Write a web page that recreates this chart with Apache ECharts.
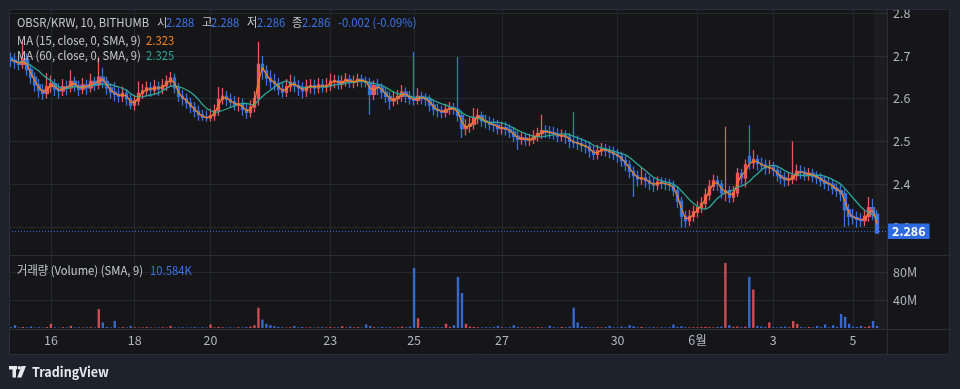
<!DOCTYPE html>
<html><head><meta charset="utf-8">
<script src="https://cdn.jsdelivr.net/npm/echarts@6/dist/echarts.min.js"></script>
<style>html,body{margin:0;padding:0;background:#1e222d}#c{width:960px;height:389px}</style>
</head><body><div id="c"></div>
<script>
// ---- data (aggregated candles) ----
const opens=[
2.695,2.690,2.685,2.680,2.692,2.668,2.650,2.632,2.620,2.612,
2.628,2.635,2.622,2.618,2.628,2.625,2.640,2.630,2.622,2.632,
2.625,2.640,2.632,2.650,2.640,2.625,2.615,2.610,2.605,2.612,
2.600,2.585,2.595,2.612,2.618,2.625,2.620,2.628,2.622,2.630,
2.640,2.648,2.625,2.605,2.600,2.590,2.580,2.570,2.562,2.556,
2.555,2.560,2.572,2.598,2.605,2.598,2.592,2.585,2.588,2.575,
2.568,2.580,2.600,2.680,2.665,2.648,2.640,2.635,2.622,2.615,
2.628,2.638,2.630,2.625,2.618,2.628,2.630,2.625,2.632,2.628,
2.630,2.640,2.642,2.635,2.640,2.645,2.638,2.640,2.645,2.640,
2.638,2.610,2.630,2.625,2.615,2.605,2.595,2.600,2.605,2.615,
2.605,2.600,2.596,2.605,2.600,2.598,2.585,2.575,2.572,2.568,
2.575,2.578,2.575,2.560,2.530,2.535,2.540,2.555,2.560,2.548,
2.545,2.540,2.538,2.530,2.532,2.528,2.522,2.512,2.505,2.508,
2.503,2.505,2.512,2.518,2.525,2.522,2.520,2.518,2.512,2.515,
2.510,2.500,2.497,2.495,2.490,2.488,2.478,2.470,2.478,2.482,
2.478,2.475,2.470,2.465,2.455,2.445,2.430,2.420,2.412,2.415,
2.408,2.402,2.398,2.405,2.402,2.400,2.398,2.385,2.360,2.325,
2.315,2.325,2.335,2.345,2.355,2.375,2.395,2.408,2.400,2.380,
2.385,2.370,2.380,2.425,2.415,2.465,2.450,2.458,2.448,2.445,
2.438,2.440,2.432,2.420,2.415,2.410,2.412,2.420,2.430,2.428,
2.422,2.425,2.418,2.415,2.408,2.402,2.400,2.390,2.385,2.378,
2.340,2.325,2.322,2.318,2.315,2.325,2.345,2.330];
const closes=[
2.690,2.685,2.680,2.692,2.668,2.650,2.632,2.620,2.612,2.628,
2.635,2.622,2.618,2.628,2.625,2.640,2.630,2.622,2.632,2.625,
2.640,2.632,2.650,2.640,2.625,2.615,2.610,2.605,2.612,2.600,
2.585,2.595,2.612,2.618,2.625,2.620,2.628,2.622,2.630,2.640,
2.648,2.625,2.605,2.600,2.590,2.580,2.570,2.562,2.556,2.555,
2.560,2.572,2.598,2.605,2.598,2.592,2.585,2.588,2.575,2.568,
2.580,2.600,2.680,2.665,2.648,2.640,2.635,2.622,2.615,2.628,
2.638,2.630,2.625,2.618,2.628,2.630,2.625,2.632,2.628,2.630,
2.640,2.642,2.635,2.640,2.645,2.638,2.640,2.645,2.640,2.638,
2.610,2.630,2.625,2.615,2.605,2.595,2.600,2.605,2.615,2.605,
2.600,2.596,2.605,2.600,2.598,2.585,2.575,2.572,2.568,2.575,
2.578,2.575,2.560,2.530,2.535,2.540,2.555,2.560,2.548,2.545,
2.540,2.538,2.530,2.532,2.528,2.522,2.512,2.505,2.508,2.503,
2.505,2.512,2.518,2.525,2.522,2.520,2.518,2.512,2.515,2.510,
2.500,2.497,2.495,2.490,2.488,2.478,2.470,2.478,2.482,2.478,
2.475,2.470,2.465,2.455,2.445,2.430,2.420,2.412,2.415,2.408,
2.402,2.398,2.405,2.402,2.400,2.398,2.385,2.360,2.325,2.315,
2.325,2.335,2.345,2.355,2.375,2.395,2.408,2.400,2.380,2.385,
2.370,2.380,2.425,2.415,2.445,2.450,2.458,2.448,2.445,2.438,
2.440,2.432,2.420,2.415,2.410,2.412,2.420,2.430,2.428,2.422,
2.425,2.418,2.415,2.408,2.402,2.400,2.390,2.385,2.378,2.340,
2.325,2.322,2.318,2.315,2.325,2.345,2.330,2.286];
const highs=[
2.708,2.706,2.698,2.732,2.706,2.678,2.661,2.646,2.634,2.660,
2.654,2.646,2.636,2.646,2.642,2.667,2.651,2.642,2.648,2.644,
2.658,2.651,2.697,2.672,2.651,2.636,2.638,2.624,2.628,2.621,
2.610,2.608,2.640,2.634,2.640,2.638,2.644,2.640,2.646,2.654,
2.662,2.658,2.636,2.620,2.612,2.602,2.592,2.584,2.574,2.572,
2.576,2.586,2.627,2.625,2.618,2.612,2.606,2.604,2.600,2.588,
2.596,2.618,2.732,2.700,2.678,2.666,2.658,2.648,2.636,2.646,
2.656,2.652,2.644,2.638,2.644,2.646,2.644,2.648,2.646,2.648,
2.658,2.656,2.654,2.654,2.660,2.656,2.654,2.658,2.656,2.651,
2.648,2.642,2.646,2.636,2.626,2.616,2.618,2.620,2.632,2.626,
2.618,2.709,2.624,2.616,2.612,2.608,2.596,2.588,2.584,2.588,
2.592,2.590,2.697,2.572,2.552,2.556,2.578,2.576,2.570,2.562,
2.558,2.554,2.550,2.546,2.546,2.540,2.534,2.524,2.522,2.520,
2.518,2.526,2.532,2.562,2.538,2.536,2.534,2.530,2.528,2.526,
2.520,2.569,2.514,2.508,2.504,2.500,2.490,2.492,2.496,2.494,
2.490,2.488,2.482,2.476,2.466,2.456,2.442,2.432,2.440,2.426,
2.420,2.416,2.418,2.416,2.414,2.412,2.408,2.396,2.370,2.338,
2.340,2.350,2.360,2.370,2.390,2.410,2.422,2.420,2.410,2.534,
2.396,2.396,2.438,2.436,2.458,2.538,2.480,2.468,2.462,2.458,
2.456,2.452,2.444,2.434,2.428,2.426,2.500,2.446,2.444,2.440,
2.438,2.436,2.430,2.426,2.420,2.416,2.412,2.402,2.398,2.388,
2.354,2.342,2.336,2.332,2.340,2.370,2.366,2.340];
const lows=[
2.674,2.670,2.666,2.670,2.654,2.634,2.616,2.602,2.597,2.600,
2.614,2.606,2.600,2.606,2.608,2.614,2.616,2.606,2.610,2.609,
2.614,2.618,2.622,2.624,2.609,2.600,2.594,2.591,2.592,2.584,
2.575,2.572,2.584,2.599,2.606,2.604,2.608,2.606,2.610,2.618,
2.628,2.612,2.592,2.584,2.576,2.566,2.556,2.548,2.548,2.546,
2.546,2.548,2.560,2.586,2.582,2.578,2.572,2.570,2.560,2.553,
2.556,2.568,2.584,2.644,2.630,2.622,2.618,2.608,2.602,2.604,
2.616,2.614,2.606,2.600,2.604,2.612,2.609,2.612,2.614,2.614,
2.618,2.624,2.620,2.622,2.628,2.624,2.624,2.628,2.626,2.626,
2.562,2.596,2.608,2.600,2.590,2.574,2.582,2.586,2.592,2.590,
2.586,2.584,2.586,2.586,2.582,2.570,2.560,2.556,2.554,2.556,
2.562,2.562,2.546,2.508,2.514,2.520,2.528,2.540,2.534,2.530,
2.526,2.522,2.516,2.516,2.514,2.508,2.498,2.480,2.492,2.490,
2.490,2.494,2.500,2.506,2.508,2.506,2.504,2.498,2.500,2.494,
2.484,2.484,2.480,2.476,2.472,2.462,2.456,2.458,2.466,2.464,
2.460,2.456,2.450,2.440,2.430,2.414,2.370,2.394,2.398,2.392,
2.386,2.382,2.386,2.388,2.386,2.384,2.372,2.344,2.298,2.299,
2.302,2.312,2.322,2.332,2.342,2.362,2.384,2.384,2.366,2.360,
2.356,2.358,2.370,2.398,2.392,2.434,2.436,2.432,2.430,2.422,
2.424,2.418,2.406,2.400,2.394,2.396,2.400,2.408,2.412,2.408,
2.408,2.404,2.400,2.394,2.388,2.384,2.376,2.370,2.360,2.300,
2.302,2.306,2.298,2.300,2.302,2.312,2.316,2.284];
const volumesM=[
1.2,4.0,0.8,1.5,0.9,2.0,0.6,1.1,0.7,1.3,
6.0,0.9,0.5,1.2,0.8,3.0,0.7,1.0,0.6,0.9,
1.1,0.8,27.0,8.0,1.4,0.9,10.0,0.7,1.2,0.8,
3.0,1.0,0.6,0.9,1.3,0.7,0.5,0.8,1.1,0.6,
3.0,0.9,0.7,1.0,0.6,0.8,1.2,0.5,0.9,0.7,
5.0,0.8,1.5,1.0,0.6,0.9,0.7,1.1,0.8,1.3,
2.0,4.0,29.0,12.0,6.0,4.0,2.5,1.5,1.0,0.8,
1.2,3.0,0.9,1.4,0.7,1.0,0.6,0.8,1.1,0.9,
1.3,0.8,1.0,2.5,0.7,2.0,0.9,1.2,0.6,5.0,
3.0,1.1,0.8,1.5,0.9,1.2,0.7,1.0,1.8,0.9,
2.0,86.0,14.0,1.5,1.0,0.8,1.3,0.9,1.1,6.0,
1.5,4.0,73.0,50.0,6.0,2.0,1.5,1.0,0.8,1.2,
0.9,1.3,3.0,1.0,0.7,1.1,4.0,1.5,0.9,0.8,
1.0,0.7,1.2,0.9,0.6,3.0,1.1,0.8,1.4,0.9,
1.8,29.0,8.0,2.0,1.5,1.0,0.8,1.2,0.9,1.3,
3.0,1.0,0.7,2.0,1.1,4.0,2.5,1.0,1.5,0.8,
0.9,1.2,0.7,1.0,0.8,1.1,5.0,1.5,2.5,1.2,
0.9,1.0,0.8,1.3,1.6,1.2,0.9,1.4,2.0,93.0,
4.0,1.5,2.0,1.2,1.8,73.0,55.0,3.0,2.0,1.4,
8.0,1.2,0.9,1.5,2.0,1.1,10.0,6.0,1.3,0.9,
1.5,1.0,3.0,1.2,5.0,0.9,4.0,1.5,20.0,16.0,
6.0,2.0,1.5,3.0,1.2,2.5,10.0,3.0];
const tickIndex=[10,31,50,80,101,123,152,172,191,211];
const tickLabels=['16','18','20','23','25','27','30','6월','3','5'];
const lastPrice=2.286;
const MA_FAST=2, MA_SLOW=8;   // moving-average windows in aggregated candles
const SLOTS=220;

// ---- styling ----
const UP='#ec5560', DOWN='#3a72dd', ORANGE='#f5821f', TEAL='#2aa79b', BLUE_TXT='#3a74e6', GRAY_TXT='#c6c8cf';
const GRID='#25282f', TXT='#b2b5be', FONT="'Noto Sans CJK KR','Noto Sans',sans-serif";
const categories=Array.from({length:SLOTS},(_,i)=>String(i));
const labelMap={}; tickIndex.forEach((k,j)=>labelMap[k]=tickLabels[j]);
const candles=opens.map((o,i)=>[o,closes[i],lows[i],highs[i]]);
function sma(src,n){return src.map((_,i)=>{const s=Math.max(0,i-n+1);let t=0;for(let j=s;j<=i;j++)t+=src[j];return +(t/(i-s+1)).toFixed(4);});}
const vol=volumesM.map((v,i)=>({value:v,itemStyle:{color:closes[i]>=opens[i]?'rgba(236,85,96,0.85)':'rgba(58,114,221,0.9)'}}));

// legend text pieces: [text, x, y, colour]
const legendPieces=[
  ['OBSR/KRW, 10, BITHUMB',17,22,GRAY_TXT],['시',157,22,GRAY_TXT],['2.288',166,22,BLUE_TXT],
  ['고',202,22,GRAY_TXT],['2.288',211,22,BLUE_TXT],['저',247,22,GRAY_TXT],['2.286',257,22,BLUE_TXT],
  ['종',292,22,GRAY_TXT],['2.286',302,22,BLUE_TXT],['-0.002 (-0.09%)',338,22,BLUE_TXT],
  ['MA (15, close, 0, SMA, 9)',17,40,GRAY_TXT],['2.323',146,40,ORANGE],
  ['MA (60, close, 0, SMA, 9)',17,55,GRAY_TXT],['2.325',146,55,TEAL],
  ['거래량 (Volume) (SMA, 9)',17,270,GRAY_TXT],['10.584K',150,270,BLUE_TXT]
];

const chart=echarts.init(document.getElementById('c'),null,{renderer:'canvas'});
const hideAxis={axisLine:{show:false},axisTick:{show:false},axisLabel:{show:false},splitLine:{show:false}};
const deco=[
  {type:'rect',z:90,silent:true,shape:{x:874,y:9,width:13,height:320},style:{fill:'rgba(255,255,255,0.03)'}},
  {type:'rect',z:100,silent:true,shape:{x:0,y:0,width:960,height:9},style:{fill:'#1e222d'}},
  {type:'rect',z:100,silent:true,shape:{x:0,y:0,width:9,height:389},style:{fill:'#1e222d'}},
  {type:'rect',z:100,silent:true,shape:{x:950,y:0,width:10,height:389},style:{fill:'#1e222d'}},
  {type:'rect',z:100,silent:true,shape:{x:0,y:355,width:960,height:34},style:{fill:'#1e222d'}},
  {type:'rect',z:101,silent:true,shape:{x:9.5,y:9.5,width:940,height:345},style:{fill:null,stroke:'#2a2e39',lineWidth:1}},
  {type:'line',z:101,silent:true,shape:{x1:887.5,y1:9,x2:887.5,y2:355},style:{stroke:'#2a2e39',lineWidth:1}},
  {type:'line',z:101,silent:true,shape:{x1:9,y1:255.5,x2:950,y2:255.5},style:{stroke:'#2a2e39',lineWidth:1}},
  {type:'line',z:101,silent:true,shape:{x1:9,y1:329.5,x2:950,y2:329.5},style:{stroke:'#2a2e39',lineWidth:1}},
  {type:'rect',z:102,silent:true,shape:{x:9,y:366,width:8,height:3.5},style:{fill:'#e8e9ed'}},
  {type:'rect',z:102,silent:true,shape:{x:12.5,y:366,width:3.5,height:11.5},style:{fill:'#e8e9ed'}},
  {type:'circle',z:102,silent:true,shape:{cx:19.3,cy:367.8,r:1.8},style:{fill:'#e8e9ed'}},
  {type:'polygon',z:102,silent:true,shape:{points:[[21.5,366],[26,366],[21.5,377.5],[17.2,377.5]]},style:{fill:'#e8e9ed'}},
  {type:'text',z:102,silent:true,x:32,y:372,scaleX:0.93,style:{text:'TradingView',fill:'#e8e9ed',fontSize:13.5,fontWeight:'bold',fontFamily:FONT,verticalAlign:'middle',textVerticalAlign:'middle'}}
];
legendPieces.forEach(p=>deco.push({type:'text',z:102,silent:true,x:p[1],y:p[2],scaleX:0.94,
  style:{text:p[0],fill:p[3],fontSize:12,fontFamily:FONT,verticalAlign:'middle',textVerticalAlign:'middle'}}));

chart.setOption({
  backgroundColor:'#161619',
  animation:false,
  textStyle:{fontFamily:FONT},
  grid:[
    {left:9,top:13,width:878,height:256.8},
    {left:9,top:255.2,width:878,height:72.8},
    {left:11,top:9,width:874,height:320}
  ],
  xAxis:[
    Object.assign({type:'category',gridIndex:0,data:categories,boundaryGap:true},hideAxis),
    {type:'category',gridIndex:1,data:categories,boundaryGap:true,axisLine:{show:false},axisTick:{show:false},splitLine:{show:false},
     axisLabel:{interval:(idx)=>labelMap[idx]!==undefined,formatter:(v)=>labelMap[Number(v)]||'',color:TXT,fontSize:12.5,margin:6,fontFamily:FONT}},
    {type:'category',gridIndex:2,data:categories,boundaryGap:false,axisLine:{show:false},axisTick:{show:false},axisLabel:{show:false},
     splitLine:{show:true,interval:(idx)=>labelMap[idx]!==undefined,lineStyle:{color:GRID,width:1}}}
  ],
  yAxis:[
    {type:'value',gridIndex:0,min:2.2,max:2.8,interval:0.1,position:'right',axisLine:{show:false},axisTick:{show:false},
     axisLabel:{showMinLabel:false,formatter:(v)=>v.toFixed(1),color:TXT,fontSize:12.5,margin:6,fontFamily:FONT},
     splitLine:{show:true,showMinLine:false,lineStyle:{color:GRID}}},
    {type:'value',gridIndex:1,min:0,max:104,interval:40,position:'right',axisLine:{show:false},axisTick:{show:false},
     axisLabel:{showMinLabel:false,showMaxLabel:false,formatter:(v)=>v+'M',color:TXT,fontSize:12.5,margin:6,fontFamily:FONT},
     splitLine:{show:true,showMinLine:false,showMaxLine:false,lineStyle:{color:GRID}}},
    Object.assign({type:'value',gridIndex:2,min:0,max:1},hideAxis)
  ],
  series:[
    {type:'candlestick',xAxisIndex:0,yAxisIndex:0,data:candles,barWidth:'75%',
     itemStyle:{color:UP,color0:DOWN,borderColor:UP,borderColor0:DOWN,borderWidth:1.3},
     markLine:{silent:true,symbol:['none','none'],data:[{yAxis:lastPrice}],
       lineStyle:{color:'#2f6be0',type:[1,2],width:1},
       label:{position:'end',formatter:lastPrice.toFixed(3),color:'#fff',backgroundColor:'#2f6be0',padding:[2,4,1,4],fontWeight:'bold',fontSize:12.5,distance:1,fontFamily:FONT}}},
    {type:'line',xAxisIndex:0,yAxisIndex:0,data:sma(closes,MA_SLOW),showSymbol:false,lineStyle:{color:TEAL,width:1.3},z:3},
    {type:'line',xAxisIndex:0,yAxisIndex:0,data:sma(closes,MA_FAST),showSymbol:false,lineStyle:{color:ORANGE,width:1.2},z:4},
    {type:'bar',xAxisIndex:1,yAxisIndex:1,data:vol,barWidth:'60%'}
  ],
  graphic:deco
});
</script></body></html>
